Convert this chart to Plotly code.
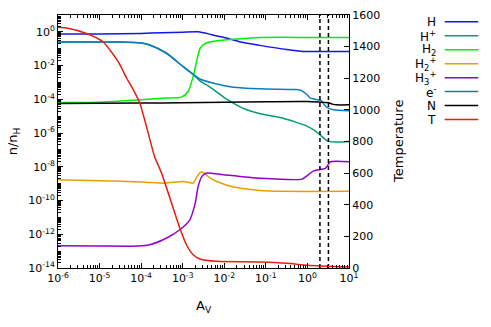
import plotly.graph_objects as go

# abundances relative to n_H (Av, value)
av_H = [1e-6, 1e-5, 1e-4, 3.2e-4, 1e-3, 2.35e-3, 5e-3, 1e-2, 2.5e-2, 7.2e-2, 0.32, 0.8, 2.0, 10]
H = [0.75, 0.76, 0.81, 0.89, 0.95, 1.0, 0.68, 0.46, 0.25, 0.158, 0.089, 0.069, 0.068, 0.068]

av_Hp = [1e-6, 1e-5, 3.2e-5, 1e-4, 1.6e-4, 4.1e-4, 1.02e-3, 1.66e-3, 2.6e-3, 5e-3, 1e-2, 2e-2, 3.2e-2, 7.4e-2,
         0.26, 1.0, 1.6, 3.2, 10]
Hp = [0.25, 0.25, 0.25, 0.22, 0.166, 0.054, 8.7e-3, 3.5e-3, 1.25e-3, 4.5e-4, 1.26e-4, 4.5e-5, 2.6e-5, 1.4e-5,
      7.6e-6, 2.5e-6, 1.26e-6, 3.2e-7, 3.2e-7]

av_H2 = [1e-6, 1e-5, 1e-4, 3.2e-4, 9.3e-4, 1.35e-3, 1.78e-3, 2.2e-3, 2.63e-3, 3.5e-3, 6.6e-3, 7.2e-2, 1.0, 10]
H2 = [6.5e-5, 6.8e-5, 9.3e-5, 1.17e-4, 1.35e-4, 2.9e-4, 2.2e-3, 0.022, 0.107, 0.21, 0.30, 0.46, 0.47, 0.47]

av_H2p = [1e-6, 1e-5, 1e-4, 1.6e-4, 3.7e-4, 1.02e-3, 1.58e-3, 1.78e-3, 2.2e-3, 2.63e-3, 3.2e-3, 4.6e-3,
          6.6e-3, 1.66e-2, 7.2e-2, 0.26, 10]
H2p = [1.7e-9, 1.5e-9, 1.26e-9, 1.17e-9, 1.07e-9, 1.35e-9, 1.1e-9, 1.07e-9, 2.5e-9, 4.7e-9, 4.5e-9, 2.1e-9,
       1.35e-9, 6.3e-10, 4e-10, 3.5e-10, 3.5e-10]

av_H3p = [1e-6, 1e-5, 8.5e-5, 1.6e-4, 4.1e-4, 8.5e-4, 1.48e-3, 2e-3, 2.35e-3, 2.9e-3, 3.8e-3, 9.5e-3, 7.2e-2,
          0.74, 1.06, 1.4, 2.7, 3.1, 3.55, 10]
H3p = [2.1e-13, 2e-13, 2e-13, 2.4e-13, 6e-13, 1.86e-12, 7.2e-12, 7e-11, 6.8e-10, 2.7e-9, 4.3e-9, 3.4e-9, 2.1e-9,
       1.86e-9, 3.4e-9, 5.7e-9, 8e-9, 1.26e-8, 2e-8, 2e-8]

av_e = [1e-6, 1e-5, 3.2e-5, 1e-4, 1.6e-4, 4.1e-4, 1.02e-3, 1.66e-3, 2.6e-3, 6.6e-3, 1.66e-2, 7.2e-2, 0.5,
        0.68, 1.0, 1.17, 1.78, 2.15, 2.6, 3.2, 4.25, 10]
e = [0.25, 0.25, 0.25, 0.22, 0.166, 0.054, 8.7e-3, 3.5e-3, 1.6e-3, 8.1e-4, 5.2e-4, 4.2e-4, 3.8e-4,
     3.5e-4, 1.8e-4, 1.17e-4, 9.3e-5, 8.3e-5, 4.5e-5, 3e-5, 2.4e-5, 2.1e-5]

av_N = [1e-6, 1e-4, 1e-3, 1e-2, 0.1, 1.0, 2.0, 3.2, 4.0, 5.0, 10]
N = [5.6e-5, 6e-5, 6.3e-5, 6.8e-5, 7.2e-5, 7.4e-5, 6.8e-5, 6.3e-5, 5.2e-5, 4.7e-5, 4.7e-5]

# gas temperature (right axis)
av_T = [1e-6, 1.74e-6, 5.2e-6, 1.2e-5, 2.8e-5, 4.5e-5, 6.5e-5, 9.3e-5, 1.48e-4, 2.1e-4, 3.1e-4, 8.5e-4,
        1.23e-3, 1.78e-3, 2.6e-3, 6.6e-3, 7.2e-2, 0.32, 1.0, 10]
T = [1522, 1516, 1480, 1431, 1305, 1200, 1126, 1042, 853, 705, 600, 253,
     147, 84, 57, 42, 38, 30, 17, 6]

av_marks = [2.0, 3.2]

series = [
    ("H", av_H, H, "#1414f0"),
    ("H<sup>+</sup>", av_Hp, Hp, "#009e73"),
    ("H<sub>2</sub>", av_H2, H2, "#00f000"),
    ("H<sub>2</sub><sup>+</sup>", av_H2p, H2p, "#e69f00"),
    ("H<sub>3</sub><sup>+</sup>", av_H3p, H3p, "#9400d3"),
    ("e<sup>-</sup>", av_e, e, "#0a7cc0"),
    ("N", av_N, N, "black"),
]

FONT = "DejaVu Sans"

fig = go.Figure()
for name, x, y, col in series:
    fig.add_trace(go.Scatter(x=x, y=y, mode="lines", name=name, showlegend=False,
                             line=dict(color=col, width=1.5, shape="spline", smoothing=0.6)))
fig.add_trace(go.Scatter(x=av_T, y=T, mode="lines", name="T", yaxis="y2", showlegend=False,
                         line=dict(color="#e51e10", width=1.5, shape="spline", smoothing=0.6)))
for a in av_marks:
    fig.add_trace(go.Scatter(x=[a, a], y=[1e-14, 10], mode="lines", showlegend=False,
                             line=dict(color="black", width=1.5, dash="4px,3px")))

# hand made legend, text then line sample like gnuplot
legend = [(s[0], s[3]) for s in series] + [("T", "#e51e10")]
for i, (name, col) in enumerate(legend):
    yy = 0.9735 - i * 0.05527
    fig.add_annotation(x=1.307, y=yy, xref="paper", yref="paper", text=name, showarrow=False,
                       xanchor="right", yanchor="middle", font=dict(size=12, color="black"))
    fig.add_shape(type="line", xref="paper", yref="paper", x0=1.329, x1=1.444, y0=yy, y1=yy,
                  line=dict(color=col, width=1.5))

# axis titles
fig.add_annotation(x=-0.152, y=0.5, xref="paper", yref="paper", text="n/n<sub>H</sub>",
                   textangle=-90, showarrow=False, xanchor="center", yanchor="middle",
                   font=dict(size=13))
fig.add_annotation(x=0.5, y=-0.152, xref="paper", yref="paper", text="A<sub>V</sub>",
                   showarrow=False, xanchor="center", yanchor="middle", font=dict(size=13))
fig.add_annotation(x=1.17, y=0.5, xref="paper", yref="paper", text="Temperature",
                   textangle=-90, showarrow=False, xanchor="center", yanchor="middle",
                   font=dict(size=13))

xtv = [10.0 ** k for k in range(-6, 2)]
xminor = [m * 10.0 ** k for k in range(-6, 1) for m in range(2, 10)]
ytv = [10.0 ** k for k in range(-14, 1, 2)]
yminor = [m * 10.0 ** k for k in range(-14, 1) for m in range(1, 10) if not (m == 1 and k % 2 == 0)]

# page body has an 8px margin, so the figure is 8px smaller than the window
fig.update_layout(
    width=483, height=319,
    margin=dict(l=50, r=142, t=7, b=59),
    plot_bgcolor="white", paper_bgcolor="white",
    font=dict(family=FONT, size=11, color="black"),
    xaxis=dict(type="log", range=[-6, 1], tickvals=xtv, automargin=False,
               ticktext=["10<sup>%d</sup>" % k for k in range(-6, 2)],
               showline=True, linecolor="black", linewidth=1, mirror="ticks",
               ticks="inside", ticklen=5, tickcolor="black", showgrid=False, zeroline=False,
               minor=dict(tickvals=xminor, ticks="inside", ticklen=3, tickcolor="black")),
    yaxis=dict(type="log", range=[-14, 1], tickvals=ytv, automargin=False,
               ticktext=["10<sup>%d</sup>" % k for k in range(-14, 1, 2)],
               showline=True, linecolor="black", linewidth=1, mirror=True,
               ticks="inside", ticklen=5, tickcolor="black", showgrid=False, zeroline=False,
               minor=dict(tickvals=yminor, ticks="inside", ticklen=3, tickcolor="black")),
    yaxis2=dict(overlaying="y", side="right", range=[0, 1600], dtick=200, automargin=False,
                showline=True, linecolor="black", linewidth=1,
                ticks="inside", ticklen=5, tickcolor="black", showgrid=False, zeroline=False),
)

fig.write_html("out.html")
